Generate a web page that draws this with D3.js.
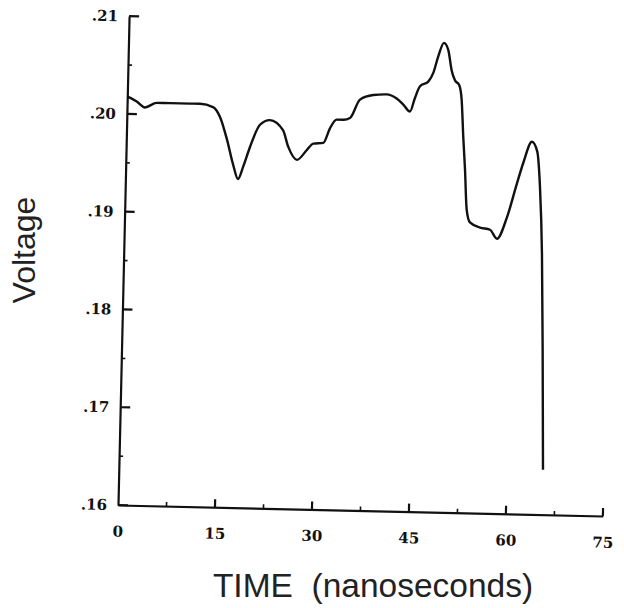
<!DOCTYPE html>
<html>
<head>
<meta charset="utf-8">
<script src="https://cdn.jsdelivr.net/npm/d3@7"></script>
<style>
body { margin: 0; background: #fff; }
</style>
</head>
<body>
<div id="chart"></div>
<script>
// time (ns) and voltage
var times = [0, 1.48, 2.78, 4.57, 6.63, 9.72, 11.27, 13.29, 14.41, 15.57, 16.63, 17.41, 18.18, 19.15,
    20.62, 22.14, 24.19, 25.07, 26.46, 27.92, 28.92, 30.47, 31.45, 32.45, 33.48, 34.51, 35.99, 38.03,
    40.09, 41.66, 42.70, 43.76, 44.48, 45.22, 46.48, 47.23, 47.94, 48.77, 49.46, 50.06, 50.60, 51.29,
    51.71, 52.09, 52.47, 52.87, 53.42, 54.99, 56.54, 57.65, 59.12, 60.55, 61.45, 62.72, 63.58, 64.12,
    64.66, 65.12, 65.58];
var volts = [.2018, .2013, .2007, .2012, .2012, .2012, .2012, .2009, .1999, .1976, .1950, .1936, .1949, .1969,
    .1992, .1997, .1987, .1970, .1957, .1967, .1974, .1975, .1990, .1999, .1999, .2001, .2020, .2025,
    .2026, .2022, .2016, .2009, .2023, .2035, .2040, .2049, .2066, .2080, .2073, .2052, .2042, .2037,
    .2022, .1984, .1951, .1910, .1897, .1892, .1890, .1881, .1903, .1938, .1959, .1981, .1971, .1935,
    .1867, .1765, .1646];

var xTicks = [0, 15, 30, 45, 60, 75];
var xLabels = ["0", "15", "30", "45", "60", "75"];
var xMinor = [7.5, 22.5, 37.5, 52.5, 67.5];
var yTicks = [.16, .17, .18, .19, .20, .21];
var yLabels = [".16", ".17", ".18", ".19", ".20", ".21"];
var yMinor = [.165, .175, .185, .195, .205];

var W = 624, H = 608;
var w = 485, h = 489;

var svg = d3.select("#chart")
    .append("svg")
    .attr("width", W)
    .attr("height", H);

var x = d3.scaleLinear().domain([0, 75]).range([0, w]);
var y = d3.scaleLinear().domain([.16, .21]).range([h, 0]);

// the scanned plot sits slightly tilted
var g = svg.append("g")
    .attr("transform", "translate(118,505) rotate(1.3) translate(0," + (-h) + ")");

// axes: labels only, tick marks drawn by hand below
g.append("g")
    .call(d3.axisLeft(y)
        .tickValues(yTicks)
        .tickSize(0)
        .tickPadding(11)
        .tickFormat(function(d, i) { return yLabels[i]; }));

g.append("g")
    .attr("transform", "translate(0," + h + ")")
    .call(d3.axisBottom(x)
        .tickValues(xTicks)
        .tickSize(0)
        .tickPadding(21)
        .tickFormat(function(d, i) { return xLabels[i]; }));

g.selectAll(".domain").style("stroke", "#111").style("stroke-width", 2.2);
g.selectAll(".tick text")
    .style("font-family", "'DejaVu Serif', serif")
    .style("font-weight", "bold")
    .style("font-size", "15px")
    .style("fill", "#111");

// y ticks point into the plot
g.selectAll("line.ymaj")
    .data(yTicks)
    .enter()
    .append("line")
    .attr("class", "ymaj")
    .attr("x1", 0)
    .attr("x2", 10)
    .attr("y1", function(d) { return y(d); })
    .attr("y2", function(d) { return y(d); })
    .style("stroke", "#111")
    .style("stroke-width", 2.2);

g.selectAll("line.ymin")
    .data(yMinor)
    .enter()
    .append("line")
    .attr("class", "ymin")
    .attr("x1", 0)
    .attr("x2", 4)
    .attr("y1", function(d) { return y(d); })
    .attr("y2", function(d) { return y(d); })
    .style("stroke", "#111")
    .style("stroke-width", 1.6);

g.selectAll("line.xmaj")
    .data(xTicks.slice(1))
    .enter()
    .append("line")
    .attr("class", "xmaj")
    .attr("x1", function(d) { return x(d); })
    .attr("x2", function(d) { return x(d); })
    .attr("y1", h)
    .attr("y2", h - 8)
    .style("stroke", "#111")
    .style("stroke-width", 2.2);

g.selectAll("line.xmin")
    .data(xMinor)
    .enter()
    .append("line")
    .attr("class", "xmin")
    .attr("x1", function(d) { return x(d); })
    .attr("x2", function(d) { return x(d); })
    .attr("y1", h)
    .attr("y2", h - 4)
    .style("stroke", "#111")
    .style("stroke-width", 1.6);

var line = d3.line()
    .x(function(d, i) { return x(times[i]); })
    .y(function(d) { return y(d); })
    .curve(d3.curveMonotoneX);

g.append("path")
    .datum(volts)
    .attr("d", line)
    .attr("fill", "none")
    .attr("stroke", "#111")
    .attr("stroke-width", 2.4)
    .attr("stroke-linejoin", "round");

// axis titles
svg.append("text")
    .attr("transform", "translate(35,250) rotate(-90)")
    .attr("text-anchor", "middle")
    .style("font-family", "'Liberation Sans', sans-serif")
    .style("font-size", "32px")
    .style("fill", "#222")
    .text("Voltage");

svg.append("text")
    .attr("x", 373)
    .attr("y", 597)
    .attr("text-anchor", "middle")
    .style("font-family", "'Liberation Sans', sans-serif")
    .style("font-size", "33.5px")
    .style("fill", "#222")
    .style("white-space", "pre")
    .text("TIME  (nanoseconds)");
</script>
</body>
</html>
